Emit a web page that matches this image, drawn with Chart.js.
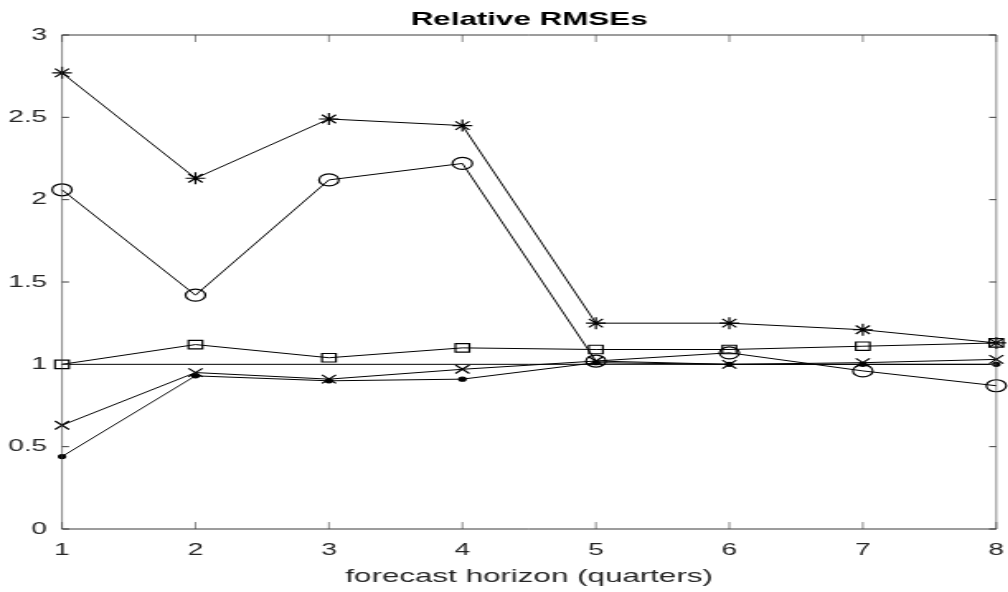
<!DOCTYPE html>
<html lang="en">
<head>
<meta charset="UTF-8">
<title>Relative RMSEs</title>
<script src="https://cdn.jsdelivr.net/npm/chart.js"></script>
<style>
    html, body {
        margin: 0;
        padding: 0;
        background: #fff;
        overflow: hidden;
    }
    #wrap {
        width: 1008px;
        height: 592px;
        overflow: hidden;
    }
    /* the reference is stretched horizontally, so draw narrow and widen */
    #rmseChart {
        transform: scaleX(1.65);
        transform-origin: 0 0;
    }
</style>
</head>
<body>
<div id="wrap"><canvas id="rmseChart" width="611" height="592"></canvas></div>
<script>
// horizons on the x axis
const horizons = [1, 2, 3, 4, 5, 6, 7, 8];

// series, one per marker type
const starSeries   = [2.77, 2.13, 2.49, 2.45, 1.25, 1.25, 1.21, 1.13];
const circleSeries = [2.06, 1.42, 2.12, 2.22, 1.02, 1.07, 0.96, 0.87];
const squareSeries = [1.00, 1.12, 1.04, 1.10, 1.09, 1.09, 1.11, 1.13];
const crossSeries  = [0.63, 0.95, 0.91, 0.97, 1.02, 1.00, 1.01, 1.03];
const dotSeries    = [0.44, 0.93, 0.90, 0.91, 1.01, 1.00, 1.00, 1.00];

// reference line at 1
const refLineX = [1, 8];
const refLineY = [1, 1];

const xTickLabels = ['1', '2', '3', '4', '5', '6', '7', '8'];
const yTickLabels = ['0', '0.5', '1', '1.5', '2', '2.5', '3'];

const STRETCH = 1.65;
const axisColor = '#3a3a3a';
const textColor = '#262626';

function toPoints(xs, ys) {
    return xs.map((x, i) => ({ x: x, y: ys[i] }));
}

function series(data, style, radius, fill) {
    return {
        data: toPoints(horizons, data),
        borderColor: '#000',
        borderWidth: 1,
        pointStyle: style,
        pointRadius: radius,
        pointBorderWidth: 1.2,
        pointBorderColor: '#000',
        pointBackgroundColor: fill ? '#000' : 'rgba(0,0,0,0)',
        tension: 0,
        clip: false
    };
}

// box, inward ticks and title like a matlab figure
const matlabAxes = {
    id: 'matlabAxes',
    afterDatasetsDraw(chart) {
        const { ctx, chartArea: a, scales: { x, y } } = chart;
        const tick = 7;
        ctx.save();
        ctx.strokeStyle = axisColor;

        // horizontal edges
        ctx.lineWidth = 1;
        ctx.beginPath();
        ctx.moveTo(a.left, a.top); ctx.lineTo(a.right, a.top);
        ctx.moveTo(a.left, a.bottom); ctx.lineTo(a.right, a.bottom);
        y.ticks.forEach(t => {
            const py = y.getPixelForValue(t.value);
            ctx.moveTo(a.left, py); ctx.lineTo(a.left + tick / STRETCH, py);
            ctx.moveTo(a.right, py); ctx.lineTo(a.right - tick / STRETCH, py);
        });
        ctx.stroke();

        // vertical edges, thinned so they look 1px after stretching
        ctx.lineWidth = 1 / STRETCH;
        ctx.beginPath();
        ctx.moveTo(a.left, a.top); ctx.lineTo(a.left, a.bottom);
        ctx.moveTo(a.right, a.top); ctx.lineTo(a.right, a.bottom);
        x.ticks.forEach(t => {
            const px = x.getPixelForValue(t.value);
            ctx.moveTo(px, a.bottom); ctx.lineTo(px, a.bottom - tick);
            ctx.moveTo(px, a.top); ctx.lineTo(px, a.top + tick);
        });
        ctx.stroke();

        ctx.fillStyle = '#000';
        ctx.font = 'bold 19px "Liberation Sans", Arial, sans-serif';
        ctx.textAlign = 'center';
        ctx.textBaseline = 'middle';
        ctx.fillText('Relative RMSEs', (a.left + a.right) / 2, 19.5);
        ctx.restore();
    }
};

const ctx = document.getElementById('rmseChart').getContext('2d');
const rmseChart = new Chart(ctx, {
    type: 'line',
    data: {
        datasets: [
            {
                data: toPoints(refLineX, refLineY),
                borderColor: '#000',
                borderWidth: 1,
                pointRadius: 0,
                clip: false
            },
            series(starSeries, 'star', 6, false),
            series(circleSeries, 'circle', 6, false),
            series(squareSeries, 'rect', 6, false),
            series(crossSeries, 'crossRot', 6, false),
            series(dotSeries, 'circle', 2, true)
        ]
    },
    options: {
        responsive: false,
        animation: false,
        layout: {
            padding: { top: 35, right: 5, left: 0, bottom: 0 }
        },
        plugins: {
            legend: { display: false },
            title: { display: false },
            tooltip: { enabled: false }
        },
        scales: {
            x: {
                type: 'linear',
                min: 1,
                max: 8,
                grid: { display: false, drawTicks: false },
                border: { display: false },
                afterFit: s => {
                    s.height = 63;
                    s.paddingLeft = 0;
                    s.paddingRight = 0;
                },
                ticks: {
                    stepSize: 1,
                    padding: 11,
                    color: textColor,
                    font: { family: '"Liberation Sans", Arial, sans-serif', size: 17 },
                    callback: (v, i) => xTickLabels[i]
                },
                title: {
                    display: true,
                    text: 'forecast horizon (quarters)',
                    color: textColor,
                    font: { family: '"Liberation Sans", Arial, sans-serif', size: 19 },
                    padding: { top: 0, bottom: 4 }
                }
            },
            y: {
                type: 'linear',
                min: 0,
                max: 3,
                grid: { display: false, drawTicks: false },
                border: { display: false },
                afterFit: s => {
                    s.width = 62 / STRETCH;
                    s.paddingTop = 0;
                    s.paddingBottom = 0;
                },
                ticks: {
                    stepSize: 0.5,
                    padding: 9,
                    color: textColor,
                    font: { family: '"Liberation Sans", Arial, sans-serif', size: 17 },
                    callback: (v, i) => yTickLabels[i]
                }
            }
        }
    },
    plugins: [matlabAxes]
});
</script>
</body>
</html>
